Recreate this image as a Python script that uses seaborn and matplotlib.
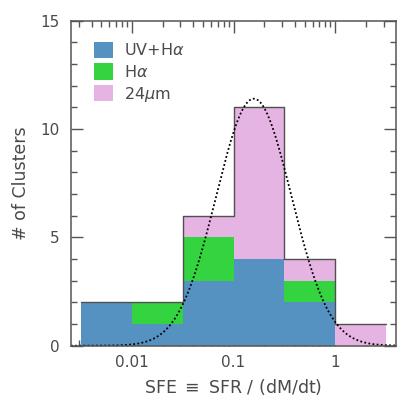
import numpy as np
import pandas as pd
import matplotlib
matplotlib.use("Agg")
import matplotlib.pyplot as plt
import seaborn as sns
from matplotlib.patches import Patch
from matplotlib.ticker import MultipleLocator, FixedLocator, FixedFormatter, LogLocator, NullFormatter

# half-decade bins in SFE (log10 edges)
log_edges = [-2.5, -2.0, -1.5, -1.0, -0.5, 0.0, 0.5]
tracers = ["UV+H$\\alpha$", "H$\\alpha$", "24$\\mu$m"]
n_uvha = [2, 1, 3, 4, 2, 0]
n_ha = [0, 1, 2, 0, 1, 0]
n_24um = [0, 0, 1, 7, 1, 1]
colors = ["#5592c1", "#33d43f", "#e5b4e3"]

# gaussian fit (in log SFE)
fit_peak = 11.4
fit_center = -0.80
fit_width = 0.37

centers = 10 ** ((np.array(log_edges[:-1]) + np.array(log_edges[1:])) / 2)

rows = []
for name, counts in zip(tracers, [n_uvha, n_ha, n_24um]):
    for c, n in zip(centers, counts):
        rows.append({"sfe": c, "n": n, "tracer": name})
df = pd.DataFrame(rows)

sns.set_theme(style="ticks")
plt.rcParams["font.family"] = ["DejaVu Sans"]
plt.rcParams["mathtext.fontset"] = "dejavusans"
txt = "#4a4a4a"
axc = "#555555"
fs = 11

fig = plt.figure(figsize=(4.07, 4.05), dpi=100)
ax = fig.add_axes([0.1745, 0.1464, 0.7985, 0.8025])
ax.set_xscale("log")

# seaborn puts the first hue level on top, so reverse to get UV+Ha at the bottom
sns.histplot(data=df, x="sfe", weights="n", hue="tracer", hue_order=tracers[::-1],
             multiple="stack", bins=list(log_edges), palette=colors[::-1], alpha=1,
             linewidth=0, legend=False, ax=ax)
tot = df.groupby("sfe", as_index=False)["n"].sum()
sns.histplot(data=tot, x="sfe", weights="n", bins=list(log_edges), element="step", fill=False,
             color="#505050", linewidth=1.0, ax=ax)

xs = np.logspace(-2.6, 0.6, 500)
ys = fit_peak * np.exp(-(np.log10(xs) - fit_center) ** 2 / (2 * fit_width ** 2))
sns.lineplot(x=xs, y=ys, color="black", linestyle=(0, (1, 1.3)), linewidth=1.3, ax=ax)

ax.set_xlim(10 ** -2.6, 10 ** 0.6)
ax.set_ylim(0, 15)
ax.xaxis.set_major_locator(FixedLocator([0.01, 0.1, 1]))
ax.xaxis.set_major_formatter(FixedFormatter(["0.01", "0.1", "1"]))
ax.xaxis.set_minor_locator(LogLocator(base=10, subs=np.arange(2, 10)))
ax.xaxis.set_minor_formatter(NullFormatter())
ax.yaxis.set_major_locator(MultipleLocator(5))
ax.yaxis.set_minor_locator(MultipleLocator(1))

for s in ax.spines.values():
    s.set_visible(True)
    s.set_color(axc)
    s.set_linewidth(1.1)
ax.tick_params(which="both", direction="in", top=True, right=True, color=axc, width=1.0,
               labelsize=fs, labelcolor=txt)
ax.tick_params(which="major", length=8.5)
ax.tick_params(which="minor", length=4)
ax.tick_params(axis="y", pad=8)
ax.tick_params(axis="x", pad=7)

ax.set_xlabel("SFE $\\equiv$ SFR / (dM/dt)", fontsize=12.5, color=txt, labelpad=5)
ax.set_ylabel("# of Clusters", fontsize=12.5, color=txt, labelpad=8)

handles = [Patch(facecolor=c, edgecolor="none") for c in colors]
ax.legend(handles, tracers, loc="upper left", bbox_to_anchor=(0.07, 0.935), frameon=False,
          borderaxespad=0, borderpad=0, handlelength=1.2, handleheight=1.2,
          labelspacing=0.3, handletextpad=0.7, fontsize=11.5, labelcolor=txt)

fig.savefig("out.png", dpi=100)
